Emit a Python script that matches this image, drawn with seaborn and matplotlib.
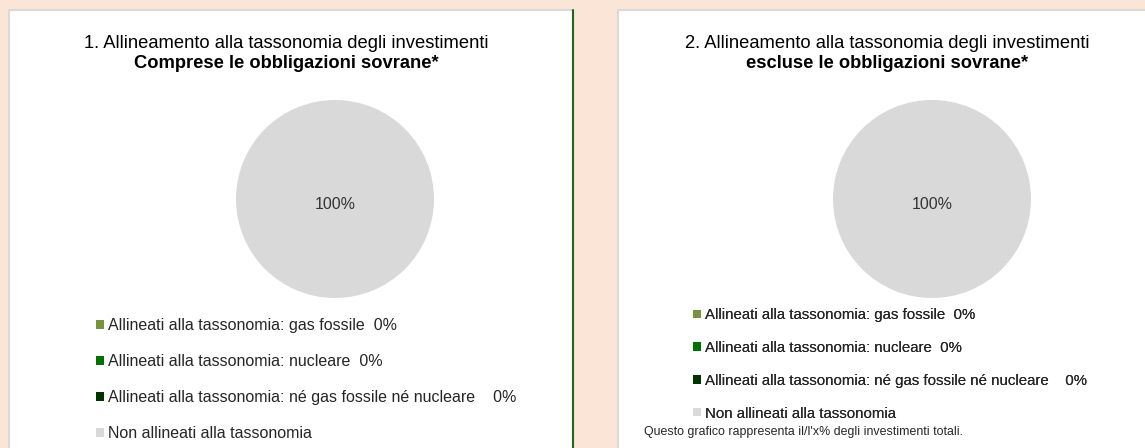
import matplotlib
matplotlib.use("Agg")
import matplotlib.pyplot as plt
from matplotlib.patches import Rectangle, Patch
from matplotlib import font_manager
import seaborn as sns

# ---------------- data ----------------
categories = [
    "Allineati alla tassonomia: gas fossile",
    "Allineati alla tassonomia: nucleare",
    "Allineati alla tassonomia: né gas fossile né nucleare",
    "Non allineati alla tassonomia",
]
values_incl = [0, 0, 0, 100]
values_excl = [0, 0, 0, 100]
title_line1 = ["1. Allineamento alla tassonomia degli investimenti",
               "2. Allineamento alla tassonomia degli investimenti"]
title_line2 = ["Comprese le obbligazioni sovrane*",
               "escluse le obbligazioni sovrane*"]
note_text = "Questo grafico rappresenta il/l'x% degli investimenti totali."
colors = ["#77933c", "#007000", "#003300", "#d9d9d9"]

# ---------------- style ----------------
sns.set_theme(style="white")
plt.rcParams["font.family"] = ["Liberation Sans", "DejaVu Sans"]

W, H, DPI = 1145, 448, 100
fig = plt.figure(figsize=(W / DPI, H / DPI), dpi=DPI, facecolor="#fbe5d6")

# background axes in pixel coordinates
bg = fig.add_axes([0, 0, 1, 1])
bg.set_xlim(0, W)
bg.set_ylim(H, 0)
bg.axis("off")
bg.patch.set_alpha(0)

# panels
bg.add_patch(Rectangle((9, 10), 564, 460, facecolor="white", edgecolor="#d9d9d9", lw=1.5, zorder=1))
bg.plot([573, 573], [10, 460], color="#1a6a1a", lw=1.5, zorder=2)
bg.add_patch(Rectangle((618, 10), 600, 460, facecolor="white", edgecolor="#d9d9d9", lw=1.5, zorder=1))

panels = [
    dict(values=values_incl, cx=335, cy=199, tx=286, legx=96, legy=318, spacing=1.32,
         fs=11.5, gaps=[2, 2, 4, 0]),
    dict(values=values_excl, cx=932, cy=199, tx=887, legx=693, legy=308, spacing=1.26,
         fs=10.8, gaps=[2, 2, 4, 0]),
]
R = 99

for i, p in enumerate(panels):
    # titles
    bg.text(p["tx"], 43, title_line1[i], ha="center", va="center", fontsize=13.2, color="black", zorder=3)
    bg.text(p["tx"], 64, title_line2[i], ha="center", va="center", fontsize=13.2, fontweight="bold",
            color="black", zorder=3)

    # pie
    ax = fig.add_axes([(p["cx"] - R) / W, (H - p["cy"] - R) / H, 2 * R / W, 2 * R / H])
    ax.set_zorder(5)
    total = sum(p["values"])
    ax.pie(p["values"], colors=colors, startangle=90, counterclock=False,
           wedgeprops=dict(linewidth=0),
           autopct=lambda pct: f"{pct:.0f}%" if pct > 0 else "",
           pctdistance=0.06, textprops=dict(fontsize=11.5, color="#333333"))
    ax.set_xlim(-1, 1)
    ax.set_ylim(-1, 1)
    ax.axis("off")

    # legend (labels carry the data-label values)
    labels = []
    for cat, v, g in zip(categories, p["values"], p["gaps"]):
        if cat.startswith("Non"):
            labels.append(cat)
        else:
            labels.append(cat + " " * g + f"{v / total * 100:.0f}%")
    handles = [Patch(facecolor=c, edgecolor="none") for c in colors]
    leg = bg.legend(handles, labels, loc="upper left", bbox_to_anchor=(p["legx"], p["legy"]),
                    bbox_transform=bg.transData, frameon=False, borderpad=0, borderaxespad=0,
                    fontsize=p["fs"], handlelength=0.52, handleheight=0.46, handletextpad=0.26,
                    labelspacing=p["spacing"])
    leg.set_zorder(6)
    bg.add_artist(leg)

# note (narrow font when available), sized to the reference width
names = {f.name for f in font_manager.fontManager.ttflist}
fam = ["Liberation Sans Narrow", "DejaVu Sans"] if "Liberation Sans Narrow" in names else ["Liberation Sans", "DejaVu Sans"]
note = bg.text(644, 432, note_text, ha="left", va="center", fontsize=10, family=fam, zorder=7)
renderer = fig.canvas.get_renderer()
w = note.get_window_extent(renderer=renderer).width
note.set_fontsize(10 * 316 / w)

fig.savefig("out.png", dpi=DPI, facecolor=fig.get_facecolor())
